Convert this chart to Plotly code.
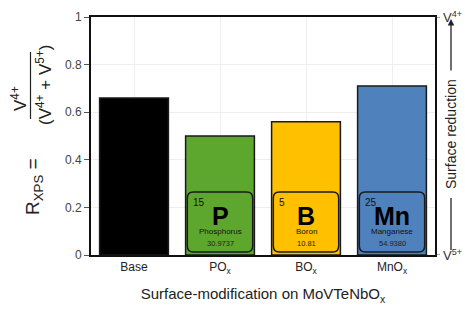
import plotly.graph_objects as go

categories = ["Base", "PO<sub>x</sub>", "BO<sub>x</sub>", "MnO<sub>x</sub>"]
r_xps = [0.66, 0.50, 0.56, 0.71]
bar_colors = ["#000000", "#5EA72F", "#FFC000", "#4F81BD"]
y_ticks = [0, 0.2, 0.4, 0.6, 0.8, 1]
y_tick_labels = ["0", "0.2", "0.4", "0.6", "0.8", "1"]
right_ticks = [0, 1]
right_tick_labels = ["V<sup>5+</sup>", "V<sup>4+</sup>"]

# periodic-table tiles (category index, atomic number, symbol, name, mass)
tile_idx = [1, 2, 3]
tile_number = ["15", "5", "25"]
tile_symbol = ["P", "B", "Mn"]
tile_name = ["Phosphorus", "Boron", "Manganese"]
tile_mass = ["30.9737", "10.81", "54.9380"]

FONT = "Liberation Sans, Arial, sans-serif"
xs = list(range(len(categories)))

fig = go.Figure()
fig.add_trace(go.Bar(
    x=xs, y=r_xps, width=0.8,
    marker=dict(color=bar_colors, line=dict(color="#1a1a1a", width=1.5)),
    showlegend=False, hoverinfo="skip",
))

shapes = []
annotations = []

W, H = 465, 309
pl, pr, pt, pb = 91, 435, 17, 255
pw, ph = pr - pl, pb - pt
def pxx(x):
    return (x - pl) / pw
def pyy(y):
    return (pb - y) / ph
def dy(y):
    return (pb - y) / ph  # data y for axis range 0..1

# tiles
hw = 0.38
y0, y1 = dy(252), dy(192)
rx, ry = 0.07, 0.025
for i, idx in enumerate(tile_idx):
    xl, xr = idx - hw, idx + hw
    path = (f"M {xl+rx},{y0} L {xr-rx},{y0} Q {xr},{y0} {xr},{y0+ry} "
            f"L {xr},{y1-ry} Q {xr},{y1} {xr-rx},{y1} "
            f"L {xl+rx},{y1} Q {xl},{y1} {xl},{y1-ry} "
            f"L {xl},{y0+ry} Q {xl},{y0} {xl+rx},{y0} Z")
    shapes.append(dict(type="path", path=path, xref="x", yref="y",
                       line=dict(color="#1a1a1a", width=1.5), layer="above"))
    annotations.append(dict(x=xl + 0.04, y=dy(195), xref="x", yref="y",
                            text=tile_number[i], showarrow=False, xanchor="left", yanchor="top",
                            font=dict(family=FONT, size=10, color="#111")))
    annotations.append(dict(x=idx, y=dy(216), xref="x", yref="y",
                            text=f"<b>{tile_symbol[i]}</b>", showarrow=False,
                            xanchor="center", yanchor="middle",
                            font=dict(family=FONT, size=25, color="#000")))
    annotations.append(dict(x=idx, y=dy(231.5), xref="x", yref="y",
                            text=tile_name[i], showarrow=False,
                            xanchor="center", yanchor="middle",
                            font=dict(family=FONT, size=8, color="#111")))
    annotations.append(dict(x=idx, y=dy(243.5), xref="x", yref="y",
                            text=tile_mass[i], showarrow=False,
                            xanchor="center", yanchor="middle",
                            font=dict(family=FONT, size=7.5, color="#222")))

# left title as a fraction
annotations.append(dict(x=pxx(34), y=pyy(187), text="R<sub>XPS</sub> =", textangle=-90,
                        showarrow=False, xref="paper", yref="paper",
                        xanchor="center", yanchor="middle",
                        font=dict(family=FONT, size=19, color="#222")))
annotations.append(dict(x=pxx(19), y=pyy(99), text="V<sup>4+</sup>", textangle=-90,
                        showarrow=False, xref="paper", yref="paper",
                        xanchor="center", yanchor="middle",
                        font=dict(family=FONT, size=17, color="#222")))
annotations.append(dict(x=pxx(44), y=pyy(85), text="(V<sup>4+</sup> + V<sup>5+</sup>)",
                        textangle=-90, showarrow=False, xref="paper", yref="paper",
                        xanchor="center", yanchor="middle",
                        font=dict(family=FONT, size=17, color="#222")))
shapes.append(dict(type="line", xref="paper", yref="paper",
                   x0=pxx(30.5), x1=pxx(30.5), y0=pyy(52), y1=pyy(119),
                   line=dict(color="#222", width=1.2)))

# right-side ticks and labels (V4+ / V5+)
for v, lab in zip(right_ticks, right_tick_labels):
    shapes.append(dict(type="line", xref="paper", yref="y",
                       x0=1, x1=pxx(440), y0=v, y1=v,
                       line=dict(color="#444", width=1)))
    annotations.append(dict(x=pxx(440.5), y=v, xref="paper", yref="y", text=lab,
                            showarrow=False, xanchor="left", yanchor="middle",
                            font=dict(family=FONT, size=13, color="#333")))

# Surface reduction with arrow
ax_x = pxx(451)
annotations.append(dict(x=ax_x, y=pyy(134), xref="paper", yref="paper",
                        text="Surface reduction", textangle=-90, showarrow=False,
                        xanchor="center", yanchor="middle",
                        font=dict(family=FONT, size=14, color="#222")))
annotations.append(dict(x=ax_x, y=pyy(19), ax=0, ay=53,
                        xref="paper", yref="paper", axref="pixel", ayref="pixel",
                        text="", showarrow=True, arrowhead=2, arrowsize=1, arrowwidth=1.3,
                        arrowcolor="#222"))
shapes.append(dict(type="line", xref="paper", yref="paper",
                   x0=ax_x, x1=ax_x, y0=pyy(198), y1=pyy(250),
                   line=dict(color="#222", width=1.3)))

fig.update_layout(
    width=W, height=H,
    margin=dict(l=pl, r=W - pr, t=pt, b=H - pb, autoexpand=False),
    paper_bgcolor="white", plot_bgcolor="white",
    bargap=0.2,
    shapes=shapes, annotations=annotations,
    xaxis=dict(
        range=[-0.5, 3.5], tickmode="array", tickvals=xs, ticktext=categories,
        showgrid=True, gridcolor="#eeeeee", gridwidth=1,
        showline=True, linecolor="#111", linewidth=2, mirror=True,
        ticks="", zeroline=False, automargin=False,
        tickfont=dict(family=FONT, size=12, color="#222"),
        title=dict(text="Surface-modification on MoVTeNbO<sub>x</sub>",
                   font=dict(family=FONT, size=15, color="#222"), standoff=14),
    ),
    yaxis=dict(
        range=[0, 1], tickmode="array", tickvals=y_ticks, ticktext=y_tick_labels,
        showgrid=True, gridcolor="#eeeeee", gridwidth=1,
        showline=True, linecolor="#111", linewidth=2, mirror=True,
        ticks="outside", ticklen=5, tickcolor="#555", tickwidth=1,
        zeroline=False, automargin=False,
        tickfont=dict(family=FONT, size=12, color="#444"),
    ),
)

fig.write_html(
    "out.html",
    config={"displayModeBar": False},
    post_script="document.body.style.margin='0';document.body.style.overflow='hidden';",
)
